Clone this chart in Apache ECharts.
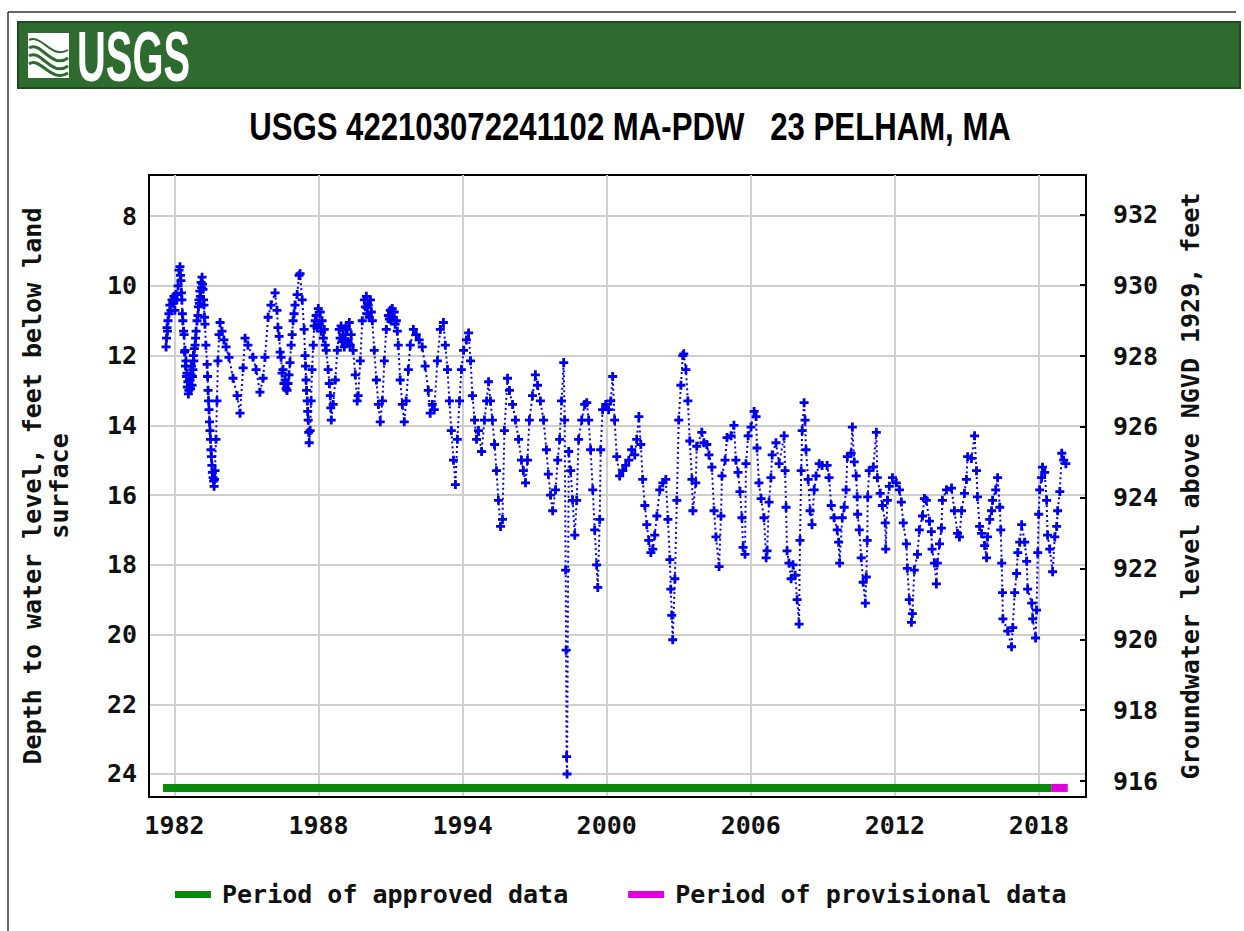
<!DOCTYPE html>
<html>
<head>
<meta charset="utf-8">
<title>USGS 422103072241102 MA-PDW 23 PELHAM, MA</title>
<script src="https://cdn.jsdelivr.net/npm/echarts@6/dist/echarts.min.js"></script>
<style>
  html, body { margin: 0; padding: 0; background: #fff; }
  #chart { width: 1244px; height: 931px; }
</style>
</head>
<body>
<div id="chart"></div>
<script>
// [decimal year, depth to water level in feet below land surface]
const readings1980s = [
  [1981.65,11.75],[1981.67,11.5],[1981.69,11.2],[1981.71,11.3],[1981.73,11.0],[1981.77,10.8],[1981.81,10.55],[1981.85,10.7],[1981.90,10.4],[1981.94,10.5],[1981.98,10.3],
  [1982.02,10.7],[1982.06,10.25],[1982.10,10.4],[1982.15,10.0],[1982.19,9.55],[1982.23,9.45],[1982.25,9.7],[1982.27,9.85],[1982.29,10.2],[1982.31,10.4],[1982.33,10.8],[1982.35,11.0],[1982.38,11.3],[1982.40,11.4],[1982.42,11.9],[1982.44,11.85],[1982.46,12.3],[1982.48,12.15],[1982.50,12.6],[1982.52,12.5],[1982.54,12.9],[1982.56,12.75],[1982.58,13.1],[1982.60,13.0],[1982.62,12.6],[1982.65,12.7],[1982.67,12.95],[1982.69,12.55],[1982.71,12.3],[1982.73,12.85],[1982.75,12.6],[1982.77,12.4],[1982.79,12.0],[1982.81,12.15],[1982.83,11.8],[1982.86,11.7],[1982.88,11.5],[1982.90,11.3],[1982.94,11.0],[1982.98,10.85],
  [1983.00,10.6],[1983.02,10.4],[1983.04,10.5],[1983.06,10.15],[1983.08,10.3],[1983.11,9.9],[1983.13,10.05],[1983.15,9.75],[1983.17,9.95],[1983.19,10.1],[1983.21,10.4],[1983.23,10.55],[1983.25,10.9],[1983.27,11.1],[1983.31,11.7],[1983.36,12.25],[1983.38,12.6],[1983.40,13.0],[1983.42,13.3],[1983.44,13.55],[1983.46,13.9],[1983.48,14.15],[1983.50,14.4],[1983.52,14.7],[1983.54,14.9],[1983.56,15.15],[1983.58,15.35],[1983.61,15.5],[1983.63,15.6],[1983.65,15.75],[1983.67,15.55],[1983.69,15.3],[1983.73,14.4],[1983.77,13.3],[1983.81,12.15],[1983.86,11.4],[1983.90,11.05],[1983.98,11.3],
  [1984.06,11.55],[1984.15,11.75],[1984.27,12.05],[1984.44,12.65],[1984.61,13.15],[1984.73,13.65],[1984.86,12.35],[1984.94,11.5],
  [1985.06,11.7],[1985.27,12.05],[1985.40,12.4],[1985.56,13.05],[1985.69,12.65],[1985.77,12.05],[1985.90,10.9],
  [1986.02,10.55],[1986.19,10.2],[1986.27,10.7],[1986.31,11.2],[1986.36,11.45],[1986.40,11.9],[1986.44,12.05],[1986.48,12.5],[1986.52,12.4],[1986.56,12.8],[1986.61,12.7],[1986.65,12.95],[1986.69,13.0],[1986.73,12.8],[1986.77,12.55],[1986.81,12.2],[1986.86,11.7],[1986.90,11.4],[1986.94,11.0],[1986.98,10.8],
  [1987.02,10.55],[1987.11,10.25],[1987.19,9.7],[1987.23,9.65],[1987.32,10.4],[1987.40,11.25],[1987.44,12.0],[1987.46,12.3],[1987.48,12.7],[1987.50,13.0],[1987.53,13.3],[1987.55,13.6],[1987.57,13.85],[1987.59,14.2],[1987.61,14.5],[1987.65,14.15],[1987.69,13.3],[1987.73,12.4],[1987.78,11.7],[1987.82,11.15],[1987.86,11.0],[1987.90,10.85],[1987.94,11.2],[1987.99,10.65],
  [1988.03,11.1],[1988.07,10.75],[1988.11,11.3],[1988.15,11.0],[1988.20,11.5],[1988.24,11.25],[1988.28,11.7],[1988.32,11.85],[1988.40,12.4],[1988.45,12.8],[1988.49,13.15],[1988.51,13.5],[1988.53,13.85],[1988.61,13.4],[1988.70,12.7],[1988.78,11.85],[1988.86,11.25],[1988.90,11.5],[1988.94,11.15],[1988.98,11.6],
  [1989.03,11.4],[1989.07,11.75],[1989.11,11.55],[1989.15,11.2],[1989.19,11.25],[1989.23,11.6],[1989.28,11.05],[1989.32,11.7],[1989.36,11.4],[1989.44,11.85],[1989.53,12.55],[1989.61,13.3],[1989.65,13.15],[1989.74,12.15],[1989.82,11.0],[1989.91,10.4],[1989.95,10.6],[1989.99,10.3]
];
const readings1990s = [
  [1990.03,10.8],[1990.07,10.55],[1990.11,10.9],[1990.16,10.4],[1990.20,10.75],[1990.24,11.0],[1990.32,11.85],[1990.41,12.7],[1990.49,13.4],[1990.57,13.9],[1990.66,13.3],[1990.74,12.15],[1990.82,11.25],[1990.91,10.85],[1990.95,10.95],[1990.99,10.7],
  [1991.03,11.0],[1991.07,10.65],[1991.11,10.9],[1991.15,10.75],[1991.19,11.1],[1991.24,11.0],[1991.28,11.3],[1991.32,11.7],[1991.40,12.7],[1991.49,13.4],[1991.57,13.9],[1991.65,13.3],[1991.74,12.4],[1991.82,11.7],[1991.95,11.25],
  [1992.07,11.4],[1992.19,11.55],[1992.32,11.75],[1992.44,12.3],[1992.57,13.0],[1992.65,13.65],[1992.74,13.4],[1992.82,13.55],[1992.95,12.15],
  [1993.07,11.25],[1993.20,11.05],[1993.28,11.7],[1993.37,12.4],[1993.45,13.3],[1993.53,14.15],[1993.62,15.0],[1993.70,15.7],[1993.78,14.4],[1993.87,13.3],[1993.95,12.4],
  [1994.04,11.85],[1994.16,11.55],[1994.25,11.35],[1994.33,12.15],[1994.41,13.15],[1994.50,13.85],[1994.58,14.4],[1994.66,14.15],[1994.79,14.75],[1994.91,13.85],
  [1995.00,13.3],[1995.08,12.75],[1995.16,13.3],[1995.24,13.85],[1995.33,14.55],[1995.41,15.3],[1995.49,16.15],[1995.58,16.9],[1995.66,16.7],[1995.74,14.15],[1995.87,12.65],[1995.95,13.0],
  [1996.08,13.4],[1996.20,13.85],[1996.33,14.4],[1996.45,15.0],[1996.53,15.3],[1996.62,15.65],[1996.70,15.0],[1996.78,13.85],[1996.91,13.15],
  [1997.03,12.55],[1997.12,12.85],[1997.24,13.3],[1997.37,13.85],[1997.49,14.7],[1997.57,15.4],[1997.66,16.0],[1997.75,16.45],[1997.87,15.85],[1997.96,15.0],
  [1998.04,14.4],[1998.12,13.3],[1998.21,12.2],[1998.25,13.85],[1998.29,18.15],[1998.31,20.45],[1998.33,23.5],[1998.35,24.0],[1998.42,14.75],[1998.50,15.3],[1998.58,16.15],[1998.67,17.15],[1998.75,16.15],[1998.83,14.4],[1998.96,13.85],
  [1999.08,13.4],[1999.17,13.35],[1999.25,13.85],[1999.33,14.7],[1999.42,15.85],[1999.50,17.0],[1999.58,18.0],[1999.63,18.65],[1999.71,16.7],[1999.75,14.7],[1999.83,13.55],[1999.96,13.4]
];
const readings2000s = [
  [2000.08,13.55],[2000.17,13.3],[2000.25,12.6],[2000.33,13.85],[2000.42,14.9],[2000.54,15.45],[2000.67,15.3],[2000.79,15.15],[2000.92,15.0],
  [2001.04,14.7],[2001.17,14.85],[2001.25,14.4],[2001.34,13.75],[2001.42,14.55],[2001.50,15.55],[2001.59,16.3],[2001.67,16.85],[2001.75,17.3],[2001.84,17.65],[2001.92,17.55],
  [2002.00,17.15],[2002.09,16.6],[2002.21,15.85],[2002.34,15.65],[2002.46,15.55],[2002.55,16.7],[2002.63,17.85],[2002.67,18.7],[2002.71,19.45],[2002.75,20.15],[2002.84,18.4],[2002.92,16.15],
  [2003.00,13.85],[2003.09,12.85],[2003.17,12.0],[2003.21,11.95],[2003.30,12.4],[2003.38,13.3],[2003.46,14.45],[2003.55,15.55],[2003.59,16.45],[2003.71,15.65],[2003.75,14.6],[2003.96,14.2],
  [2004.05,14.5],[2004.17,14.55],[2004.26,14.85],[2004.38,15.2],[2004.47,16.45],[2004.55,17.2],[2004.68,18.05],[2004.76,16.6],[2004.80,15.45],[2004.93,15.0],
  [2005.01,14.35],[2005.18,14.3],[2005.30,14.0],[2005.38,15.0],[2005.47,15.35],[2005.55,15.9],[2005.63,16.65],[2005.68,17.5],[2005.76,17.7],[2005.80,15.1],[2005.89,14.3],
  [2006.01,14.05],[2006.14,13.6],[2006.22,13.75],[2006.26,14.65],[2006.34,15.65],[2006.43,16.1],[2006.55,16.65],[2006.64,17.8],[2006.68,17.6],[2006.76,16.2],[2006.84,15.5],[2006.89,14.85],
  [2007.05,14.5],[2007.18,15.1],[2007.39,14.3],[2007.43,15.3],[2007.47,16.35],[2007.51,17.6],[2007.59,17.95],[2007.68,18.4],[2007.76,18.0],[2007.85,18.3],[2007.93,19.0],
  [2008.01,19.7],[2008.05,17.3],[2008.10,15.3],[2008.14,14.15],[2008.22,13.35],[2008.26,13.85],[2008.30,14.7],[2008.39,15.55],[2008.47,16.45],[2008.55,16.85],[2008.64,15.85],[2008.72,15.45],[2008.85,15.1],[2008.97,15.15],
  [2009.18,15.15],[2009.26,15.5],[2009.35,16.3],[2009.47,16.65],[2009.60,17.0],[2009.66,17.35],[2009.70,17.95],[2009.81,16.65],[2009.89,16.35],[2009.97,15.85]
];
const readings2010s = [
  [2010.02,14.9],[2010.18,14.8],[2010.23,14.05],[2010.31,15.05],[2010.39,15.45],[2010.43,16.05],[2010.45,16.55],[2010.52,17.0],[2010.60,17.8],[2010.68,18.5],[2010.77,19.1],[2010.81,18.35],[2010.85,17.3],[2010.87,16.05],[2010.93,15.3],
  [2011.10,15.2],[2011.23,14.2],[2011.27,15.5],[2011.39,15.95],[2011.48,16.3],[2011.60,16.8],[2011.62,17.55],[2011.69,16.15],[2011.77,15.75],[2011.90,15.5],
  [2012.06,15.65],[2012.19,15.85],[2012.27,16.2],[2012.35,16.8],[2012.48,17.4],[2012.52,18.1],[2012.60,19.0],[2012.69,19.65],[2012.73,19.4],[2012.81,18.15],[2012.94,17.7],
  [2013.02,17.0],[2013.15,16.6],[2013.23,16.1],[2013.31,16.15],[2013.44,16.75],[2013.52,17.05],[2013.55,17.55],[2013.65,17.95],[2013.73,18.55],[2013.77,17.95],[2013.86,17.4],[2013.94,16.95],[2013.98,16.15],
  [2014.15,15.85],[2014.36,15.8],[2014.48,16.45],[2014.61,17.1],[2014.69,17.2],[2014.78,16.45],[2014.90,15.95],[2014.98,15.55],
  [2015.03,14.9],[2015.19,14.95],[2015.32,14.3],[2015.40,15.3],[2015.44,16.05],[2015.53,16.9],[2015.61,17.1],[2015.74,17.45],[2015.82,17.8],[2015.86,17.2],[2015.95,16.7],
  [2016.03,16.45],[2016.07,16.15],[2016.20,15.85],[2016.28,15.5],[2016.37,16.35],[2016.41,17.0],[2016.45,17.95],[2016.48,18.8],[2016.50,19.55],[2016.70,19.9],[2016.86,20.35],[2016.91,19.8],[2016.99,18.8],
  [2017.07,18.25],[2017.12,17.65],[2017.20,17.35],[2017.28,16.85],[2017.41,17.35],[2017.49,17.9],[2017.53,18.7],[2017.70,19.1],[2017.74,19.55],[2017.86,20.1],[2017.90,19.3],[2017.95,17.65],[2017.99,16.55],
  [2018.03,15.85],[2018.11,15.5],[2018.15,15.2],[2018.24,15.35],[2018.32,16.15],[2018.36,17.15],[2018.45,17.55],[2018.57,18.2],[2018.66,17.2],[2018.74,16.9],[2018.78,16.45],[2018.87,15.9],[2018.95,14.8],
  [2019.03,15.0],[2019.12,15.1]
];

const yearTicks = [1982, 1988, 1994, 2000, 2006, 2012, 2018];
const depthTicks = [8, 10, 12, 14, 16, 18, 20, 22, 24];
const elevationTicks = [916, 918, 920, 922, 924, 926, 928, 930, 932];

// data-status periods, drawn as bars below the record
const approvedPeriod = [1981.52, 2018.51];
const provisionalPeriod = [2018.51, 2019.2];
const periodBarDepth = 24.4;

const MONO = '"DejaVu Sans Mono", "Liberation Mono", monospace';
const plusSymbol = 'path://M3.1,0h2.8v3.1h3.1v2.8h-3.1v3.1h-2.8v-3.1h-3.1v-2.8h3.1z';

const chart = echarts.init(document.getElementById('chart'), null, { renderer: 'svg' });

const monoLabel = { fontFamily: MONO, fontWeight: 'bold', fontSize: 25, color: '#111' };
const waveStyle = { stroke: '#2e6b2f', lineWidth: 3, fill: null };

const option = {
  animation: false,
  backgroundColor: '#fff',
  graphic: [
    { type: 'line', shape: { x1: 8, y1: 12, x2: 1236, y2: 12 }, style: { stroke: '#333', lineWidth: 1.5 } },
    { type: 'line', shape: { x1: 8, y1: 12, x2: 8, y2: 931 }, style: { stroke: '#333', lineWidth: 1.5 } },
    {
      type: 'rect', shape: { x: 18, y: 22, width: 1222, height: 66 },
      style: { fill: '#2e6b2f', stroke: '#1d4d1e', lineWidth: 2 }
    },
    { type: 'rect', shape: { x: 28, y: 33, width: 41, height: 45 }, style: { fill: '#fff' } },
    { type: 'bezierCurve', shape: { x1: 29, y1: 40, cpx1: 42, cpy1: 34, cpx2: 52, cpy2: 60, x2: 68, y2: 50 }, style: Object.assign({}, waveStyle, { lineWidth: 2 }) },
    { type: 'bezierCurve', shape: { x1: 29, y1: 48, cpx1: 40, cpy1: 40, cpx2: 52, cpy2: 70, x2: 68, y2: 58 }, style: waveStyle },
    { type: 'bezierCurve', shape: { x1: 29, y1: 56, cpx1: 40, cpy1: 48, cpx2: 52, cpy2: 78, x2: 68, y2: 66 }, style: waveStyle },
    { type: 'bezierCurve', shape: { x1: 29, y1: 64, cpx1: 40, cpy1: 56, cpx2: 52, cpy2: 84, x2: 68, y2: 73 }, style: waveStyle },
    {
      type: 'text', x: 77, y: 56, scaleX: 0.57,
      style: {
        text: 'USGS', fill: '#fff', align: 'left', verticalAlign: 'middle',
        font: 'bold 70px "Liberation Sans", Arial, sans-serif'
      }
    },
    {
      type: 'text', x: 630, y: 127, scaleX: 0.82,
      style: {
        text: 'USGS 422103072241102 MA-PDW\u00a0\u00a0\u00a023 PELHAM, MA',
        fill: '#000', align: 'center', verticalAlign: 'middle',
        font: 'bold 38px "Liberation Sans", Arial, sans-serif'
      }
    }
  ],
  grid: {
    left: 149, right: 158, top: 175, bottom: 134,
    show: true, borderColor: '#000', borderWidth: 2, backgroundColor: '#fff'
  },
  legend: {
    data: ['Period of approved data', 'Period of provisional data'],
    left: 170, top: 877,
    icon: 'rect', itemWidth: 36, itemHeight: 7, itemGap: 60,
    textStyle: { fontFamily: MONO, fontWeight: 'bold', fontSize: 25, color: '#111', padding: [0, 0, 0, 6] }
  },
  xAxis: {
    type: 'value', min: 1980.94, max: 2019.96,
    axisLine: { lineStyle: { color: '#000', width: 2 } },
    axisTick: { show: false, customValues: yearTicks },
    axisLabel: Object.assign({ customValues: yearTicks, margin: 16, formatter: v => String(v) }, monoLabel),
    splitLine: { show: true, lineStyle: { color: '#cfcfcf', width: 2 } }
  },
  yAxis: [
    {
      type: 'value', inverse: true, min: 6.82, max: 24.66,
      name: 'Depth to water level, feet below land\nsurface',
      nameLocation: 'middle', nameRotate: 90, nameGap: 76,
      nameTextStyle: { fontFamily: MONO, fontWeight: 'bold', fontSize: 25, color: '#111', lineHeight: 27 },
      axisLine: { lineStyle: { color: '#000', width: 2 } },
      axisTick: { show: false, customValues: depthTicks },
      axisLabel: Object.assign({ customValues: depthTicks, margin: 12, formatter: v => String(v) }, monoLabel),
      splitLine: { show: true, lineStyle: { color: '#cfcfcf', width: 2 } }
    },
    {
      type: 'value', position: 'right', min: 915.55, max: 933.11,
      name: 'Groundwater level above NGVD 1929, feet',
      nameLocation: 'middle', nameRotate: 90, nameGap: 92,
      nameTextStyle: { fontFamily: MONO, fontWeight: 'bold', fontSize: 25, color: '#111' },
      axisLine: { show: true, lineStyle: { color: '#000', width: 2 } },
      axisTick: { show: true, inside: true, length: 6, customValues: elevationTicks, lineStyle: { color: '#000', width: 2 } },
      axisLabel: Object.assign({ customValues: elevationTicks, margin: 27, formatter: v => String(v) }, monoLabel),
      splitLine: { show: false }
    }
  ],
  series: [
    {
      name: 'Period of approved data',
      type: 'line', yAxisIndex: 0, symbol: 'none', silent: true,
      data: approvedPeriod.map(x => [x, periodBarDepth]),
      lineStyle: { color: '#0a8a0a', width: 8 },
      itemStyle: { color: '#0a8a0a' }
    },
    {
      name: 'Period of provisional data',
      type: 'line', yAxisIndex: 0, symbol: 'none', silent: true,
      data: provisionalPeriod.map(x => [x, periodBarDepth]),
      lineStyle: { color: '#dd00dd', width: 8 },
      itemStyle: { color: '#dd00dd' }
    },
    {
      name: 'Water level',
      type: 'line', yAxisIndex: 0,
      data: readings1980s.concat(readings1990s, readings2000s, readings2010s),
      symbol: plusSymbol, symbolSize: 9, showAllSymbol: true,
      itemStyle: { color: '#0000ee' },
      lineStyle: { color: '#0000ee', width: 2, type: [2, 3] },
      z: 3
    }
  ]
};

chart.setOption(option);
</script>
</body>
</html>
